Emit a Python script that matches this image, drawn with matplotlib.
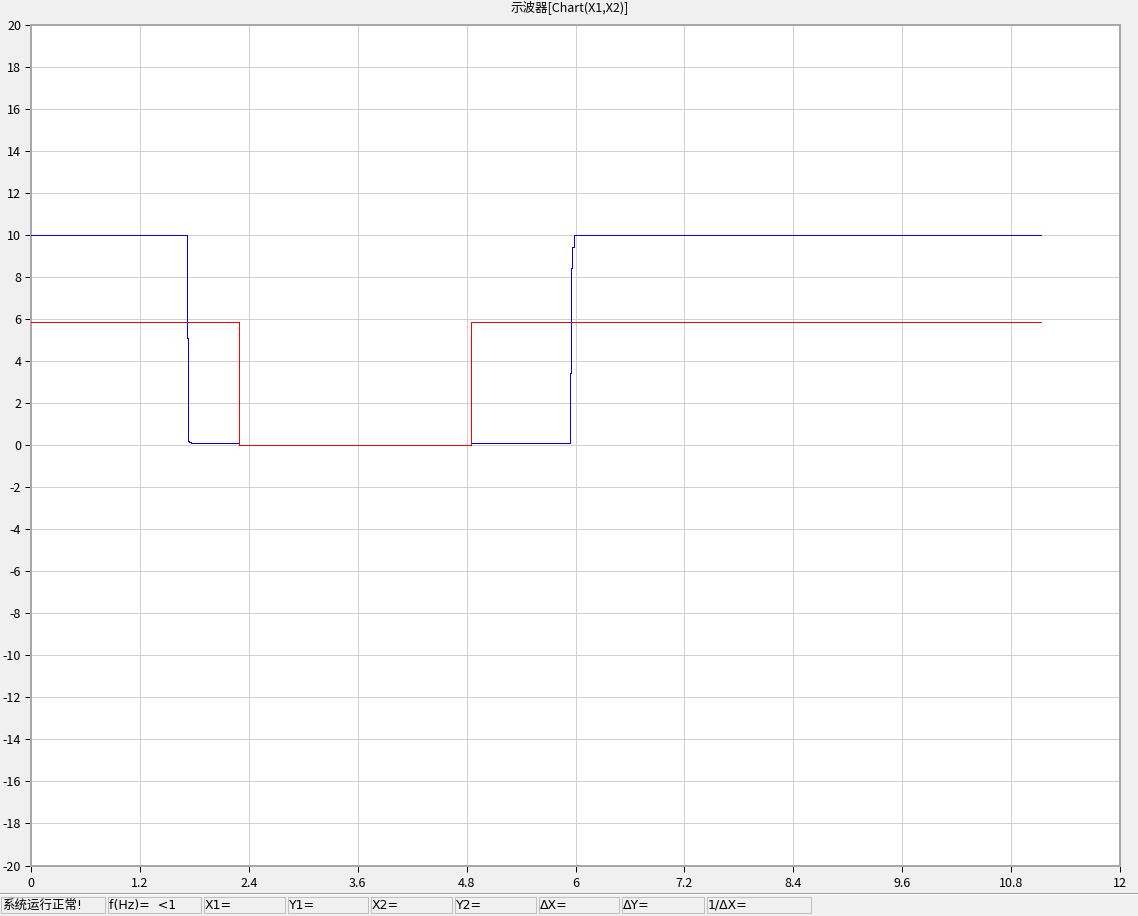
import matplotlib
matplotlib.use("Agg")
import matplotlib.pyplot as plt
from matplotlib.patches import Rectangle
from matplotlib.lines import Line2D

plt.rcParams['font.family'] = ['Noto Sans CJK SC', 'DejaVu Sans']

# ---- data ----
title = "示波器[Chart(X1,X2)]"
blue_x = [0.0, 1.722, 1.722, 1.733, 1.733, 1.744, 1.744, 1.76, 1.76, 2.292, 2.292,
          4.852, 4.852, 5.943, 5.943, 5.954, 5.954, 5.965, 5.965, 5.98, 5.98, 11.126]
blue_y = [10.0, 10.0, 5.1, 5.1, 0.2, 0.2, 0.14, 0.14, 0.1, 0.1, 0.0,
          0.0, 0.1, 0.1, 3.44, 3.44, 8.4, 8.4, 9.4, 9.4, 10.0, 10.0]
red_x = [0.0, 2.292, 2.292, 4.852, 4.852, 11.126]
red_y = [5.86, 5.86, 0.0, 0.0, 5.86, 5.86]
x_ticks = [0, 1.2, 2.4, 3.6, 4.8, 6, 7.2, 8.4, 9.6, 10.8, 12]
x_tick_labels = ["0", "1.2", "2.4", "3.6", "4.8", "6", "7.2", "8.4", "9.6", "10.8", "12"]
y_ticks = list(range(-20, 21, 2))
status_labels = ["系统运行正常!", "f(Hz)=  <1", "X1=", "Y1=", "X2=", "Y2=", "ΔX=", "ΔY=", "1/ΔX="]
status_edges = [0, 107, 203, 287, 370, 454, 538, 621, 706, 813]

W, H = 1138, 916
fig = plt.figure(figsize=(W / 100, H / 100), dpi=100, facecolor='#f0f0f0')

def fx(px):
    return px / W

def fy(py):
    return 1 - py / H

PX = 0.72  # one pixel in points

left, right, top, bottom = 31, 1120, 24.5, 865.5
ax = fig.add_axes([fx(left), fy(bottom), fx(right - left), (bottom - top) / H])
ax.set_facecolor('white')
ax.set_xlim(0, 12)
ax.set_ylim(-20, 20)
ax.set_xticks(x_ticks)
ax.set_xticklabels(x_tick_labels)
ax.set_yticks(y_ticks)
ax.set_yticklabels([str(v) for v in y_ticks])
ax.grid(True, color='#d0d0d0', linewidth=PX, antialiased=False)
ax.set_axisbelow(True)
for s in ax.spines.values():
    s.set_color('#a8a8a8')
    s.set_linewidth(2 * PX)
    s.set_antialiased(False)
ax.tick_params(direction='out', length=4, width=PX, color='black',
               labelsize=9, pad=3, labelcolor='black')
ax.tick_params(axis='x', pad=4)

ax.plot(blue_x, blue_y, color='#0000ff', linewidth=PX, antialiased=False, snap=True, zorder=3)
ax.plot(red_x, red_y, color='#ff0000', linewidth=PX, antialiased=False, snap=True, zorder=4)

fig.text(fx(570), fy(7), title, ha='center', va='center', fontsize=9, color='black')

# status bar
fig.add_artist(Line2D([0, 1], [fy(893), fy(893)], color='#a0a0a0', linewidth=PX, antialiased=False))
fig.add_artist(Line2D([0, 1], [fy(894), fy(894)], color='white', linewidth=PX, antialiased=False))
for i, lab in enumerate(status_labels):
    x0, x1 = status_edges[i], status_edges[i + 1]
    fig.add_artist(Rectangle((fx(x0 + 1), fy(913)), fx(x1 - x0 - 3), (913 - 897) / H,
                             facecolor='#f0f0f0', edgecolor='#c0c0c0', linewidth=PX,
                             antialiased=False))
    fig.text(fx(x0 + 2), fy(905.5), lab, ha='left', va='center', fontsize=9, color='black',
             family=['DejaVu Sans', 'Noto Sans CJK SC'])

fig.savefig("out.png", dpi=100, facecolor=fig.get_facecolor())
